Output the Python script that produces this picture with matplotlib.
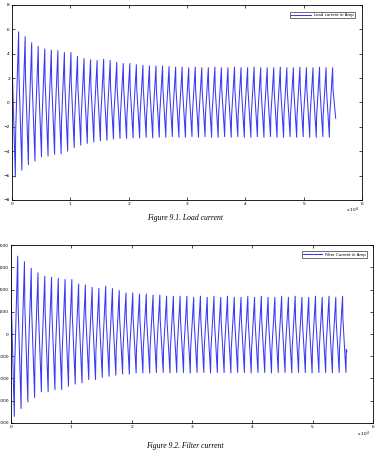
import numpy as np
import matplotlib
matplotlib.use('Agg')
import matplotlib.pyplot as plt

# x axis (x 10^4 samples)
period = 0.1122
t_end_load = 5.55
t_end_filter = 5.57

# peak / trough of every cycle
load_peaks = [6.0, 5.8, 5.4, 4.9, 4.6, 4.4, 4.3, 4.25, 4.1, 4.1,
              3.8, 3.6, 3.5, 3.45, 3.55, 3.45, 3.3, 3.2, 3.2, 3.1,
              3.05, 3.0, 3.0, 3.0, 2.95, 2.9, 2.9, 2.85, 2.9, 2.85,
              2.85, 2.9, 2.85, 2.85, 2.9, 2.85, 2.85, 2.9, 2.85, 2.85,
              2.85, 2.9, 2.85, 2.85, 2.9, 2.85, 2.85, 2.9, 2.85, 2.85]
load_troughs = [-6.1, -5.55, -5.1, -4.8, -4.45, -4.4, -4.25, -4.2, -4.0, -3.7,
                -3.5, -3.35, -3.25, -3.15, -3.1, -3.0, -2.95, -2.95, -2.9, -2.9,
                -2.85, -2.9, -2.85, -2.85, -2.8, -2.85, -2.85, -2.8, -2.85, -2.8,
                -2.85, -2.85, -2.8, -2.85, -2.8, -2.85, -2.85, -2.8, -2.85, -2.8,
                -2.85, -2.85, -2.8, -2.85, -2.8, -2.85, -2.85, -2.8, -2.85, -2.8]
load_end = -1.3

filter_peaks = [3700, 3500, 3250, 2950, 2750, 2600, 2550, 2500, 2450, 2450,
                2250, 2200, 2100, 2050, 2150, 2050, 1950, 1850, 1850, 1800,
                1800, 1750, 1750, 1700, 1700, 1700, 1700, 1650, 1700, 1650,
                1700, 1650, 1700, 1650, 1650, 1700, 1650, 1700, 1650, 1650,
                1700, 1650, 1700, 1650, 1650, 1700, 1650, 1700, 1650, 1700]
filter_troughs = [-3700, -3350, -3050, -2850, -2600, -2600, -2500, -2500, -2350, -2250,
                  -2200, -2050, -2050, -1950, -1900, -1850, -1800, -1800, -1750, -1750,
                  -1750, -1730, -1730, -1750, -1730, -1730, -1750, -1730, -1730, -1750,
                  -1730, -1730, -1750, -1730, -1730, -1750, -1730, -1730, -1750, -1730,
                  -1730, -1750, -1730, -1730, -1750, -1730, -1730, -1750, -1730, -1730]
filter_end = -800

line_col = '#3a3af4'


def wave(peaks, troughs, end_t, end_v):
    # steep edge just after each extreme, slow slope between them
    t, y = [], []
    for k, (p, q) in enumerate(zip(peaks, troughs)):
        t0 = k * period
        t += [t0, t0 + 0.05 * period, t0 + 0.5 * period, t0 + 0.55 * period]
        y += [p, 0.4 * p, q, 0.4 * q]
    t = np.array(t)
    y = np.array(y)
    keep = t < end_t
    return np.append(t[keep], end_t), np.append(y[keep], end_v)


def style(ax, yticks, ylim):
    ax.set_xlim(0, 6)
    ax.set_ylim(*ylim)
    ax.set_xticks(range(7))
    ax.set_yticks(yticks)
    ax.tick_params(direction='in', length=2, width=0.5, labelsize=3.2,
                   top=True, right=True, pad=1.5)
    for s in ax.spines.values():
        s.set_linewidth(0.6)


fig = plt.figure(figsize=(3.77, 4.54), dpi=100)

ax1 = fig.add_axes([0.032, 0.5595, 0.928, 0.4295])
t, y = wave(load_peaks, load_troughs, t_end_load, load_end)
ax1.plot(t, y, color=line_col, lw=0.75, label='Load current in Amp')
style(ax1, range(-8, 9, 2), (-8, 8))
ax1.legend(loc='upper right', fontsize=2.8, frameon=True, fancybox=False,
           edgecolor='black', handlelength=5, borderpad=0.3,
           bbox_to_anchor=(0.985, 0.975)).get_frame().set_linewidth(0.5)
fig.text(0.952, 0.532, r'x 10$^4$', fontsize=3.2, ha='right')
fig.text(0.49, 0.525 - 0.005, 'Figure 9.1. Load current', fontsize=5.5,
         style='italic', family='Liberation Serif', ha='center', va='center')

ax2 = fig.add_axes([0.029, 0.0683, 0.960, 0.392])
t, y = wave(filter_peaks, filter_troughs, t_end_filter, filter_end)
ax2.plot(t, y, color=line_col, lw=0.75, label='Filter Current in Amp')
style(ax2, range(-4000, 4001, 1000), (-4000, 4000))
ax2.legend(loc='upper right', fontsize=2.8, frameon=True, fancybox=False,
           edgecolor='black', handlelength=5, borderpad=0.3,
           bbox_to_anchor=(0.99, 0.975)).get_frame().set_linewidth(0.5)
fig.text(0.982, 0.04, r'x 10$^4$', fontsize=3.2, ha='right')
fig.text(0.49, 0.017, 'Figure 9.2. Filter current', fontsize=5.5,
         style='italic', family='Liberation Serif', ha='center', va='center')

fig.savefig('out.png', dpi=100)
